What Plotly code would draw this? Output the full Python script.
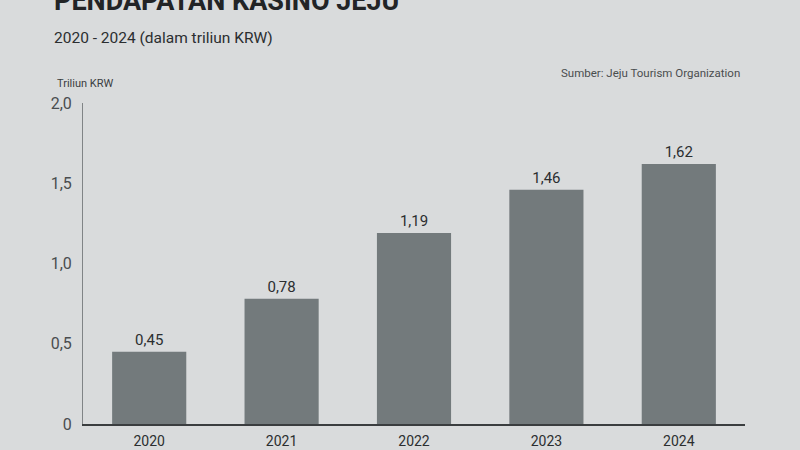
import plotly.graph_objects as go

years = ["2020", "2021", "2022", "2023", "2024"]
revenue = [0.45, 0.78, 1.19, 1.46, 1.62]
y_ticks = [0, 0.5, 1.0, 1.5, 2.0]
y_tick_labels = ["0", "0,5", "1,0", "1,5", "2,0"]

bg = "#d9dbdc"
bar_col = "#737a7c"
ink = "#2b2e30"

fig = go.Figure(go.Bar(
    x=years,
    y=revenue,
    marker=dict(color=bar_col, line=dict(width=0)),
    texttemplate="%{y:.2f}",
    textposition="outside",
    textfont=dict(size=15, color=ink),
    cliponaxis=False,
))

fig.update_layout(
    width=800, height=450,
    paper_bgcolor=bg, plot_bgcolor=bg,
    separators=",.",
    font=dict(family="Roboto, sans-serif", color=ink),
    margin=dict(l=83, r=55, t=103, b=26),
    bargap=0.44,
    showlegend=False,
    xaxis=dict(
        showline=True, linecolor="#3a3d3f", linewidth=1.5,
        ticks="", tickfont=dict(size=14, color=ink),
        ticklabelstandoff=3, showgrid=False, automargin=False,
    ),
    yaxis=dict(
        range=[0, 2], showline=True, linecolor="#808486", linewidth=1,
        tickvals=y_ticks, ticktext=y_tick_labels,
        tickfont=dict(size=16, color="#4a4d4f"),
        ticks="", ticklabelstandoff=7,
        showgrid=False, zeroline=False, automargin=False,
    ),
)

# title sits partly above the top edge, as in the photographed page
fig.add_annotation(text="<b>PENDAPATAN KASINO JEJU</b>", xref="paper", yref="paper",
                   x=-0.047, y=1.262, xanchor="left", yanchor="bottom", showarrow=False,
                   font=dict(size=27, color="#222426"))
fig.add_annotation(text="2020 - 2024 (dalam triliun KRW)", xref="paper", yref="paper",
                   x=-0.047, y=1.202, xanchor="left", yanchor="middle", showarrow=False,
                   font=dict(size=15.5, color=ink))
fig.add_annotation(text="Triliun KRW", xref="paper", yref="paper",
                   x=-0.043, y=1.06, xanchor="left", yanchor="middle", showarrow=False,
                   font=dict(size=11, color="#3a3d3f"))
fig.add_annotation(text="Sumber: Jeju Tourism Organization", xref="paper", yref="paper",
                   x=0.995, y=1.095, xanchor="right", yanchor="middle", showarrow=False,
                   font=dict(size=11.5, color="#4a4d4f"))

fig.write_html("out.html", config={"displayModeBar": False},
               post_script="document.body.style.margin='0';document.body.style.background='#d9dbdc';")
